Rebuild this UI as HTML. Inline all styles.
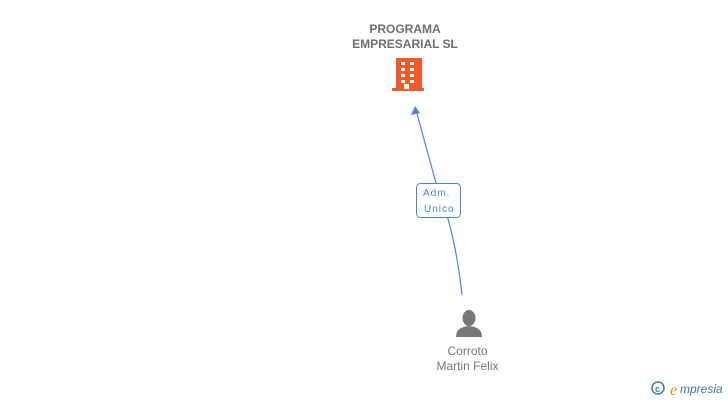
<!DOCTYPE html>
<html><head><style>
body{margin:0;width:728px;height:400px;background:#fff;position:relative;overflow:hidden;font-family:"Liberation Sans",sans-serif}
.t{position:absolute;text-align:center;font-size:12px;line-height:15px}
</style></head><body>
<div class="t" style="left:330px;top:22px;width:150px;color:#6e6e6e;font-weight:bold">PROGRAMA<br>EMPRESARIAL SL</div>
<svg width="728" height="400" style="position:absolute;left:0;top:0">
<g fill="#f4592a">
<rect x="396" y="58" width="26" height="32"/>
<rect x="392" y="88" width="32" height="3"/>
</g>
<g fill="#fff">
<rect x="401" y="62" width="4" height="3"/><rect x="410" y="62" width="4" height="3"/>
<rect x="401" y="68" width="4" height="3"/><rect x="410" y="68" width="4" height="3"/>
<rect x="401" y="74" width="4" height="3"/><rect x="410" y="74" width="4" height="3"/>
<rect x="401" y="80" width="4" height="3"/><rect x="410" y="80" width="4" height="3"/>
<rect x="404" y="84" width="5" height="5"/>
</g>
<path d="M462 295 Q455 230 436 183 L416 110" stroke="#4a86d8" stroke-width="1.2" fill="none"/>
<polygon points="415,106 411,115 420,113" fill="#4a86d8"/>
<rect x="416.5" y="183.5" width="44" height="34" rx="4" fill="#fff" stroke="#4a86d8"/>
<text x="423" y="196" font-size="10" fill="#4a86d8" font-family="Liberation Sans" letter-spacing="1">Adm.</text>
<text x="424" y="212" font-size="10" fill="#4a86d8" font-family="Liberation Sans" letter-spacing="1">Unico</text>
<ellipse cx="469" cy="318" rx="6.5" ry="8" fill="#777"/>
<path d="M456 337 Q456 327 469 326 Q482 327 482 337 Z" fill="#777"/>
<circle cx="658" cy="388" r="6" fill="none" stroke="#3a7db0" stroke-width="1.5"/>
<text x="655" y="392" font-size="9" fill="#3a7db0" font-weight="bold" font-family="Liberation Sans">c</text>
<text x="670" y="395" font-size="16" fill="#f08a00" font-style="italic" font-family="Liberation Serif">e</text>
<text x="680" y="393" font-size="12" fill="#3a7db0" font-style="italic" font-family="Liberation Sans">mpresia</text>
</svg>
<div class="t" style="left:410px;top:344px;width:115px;color:#777">Corroto<br>Martin Felix</div>
</body></html>
